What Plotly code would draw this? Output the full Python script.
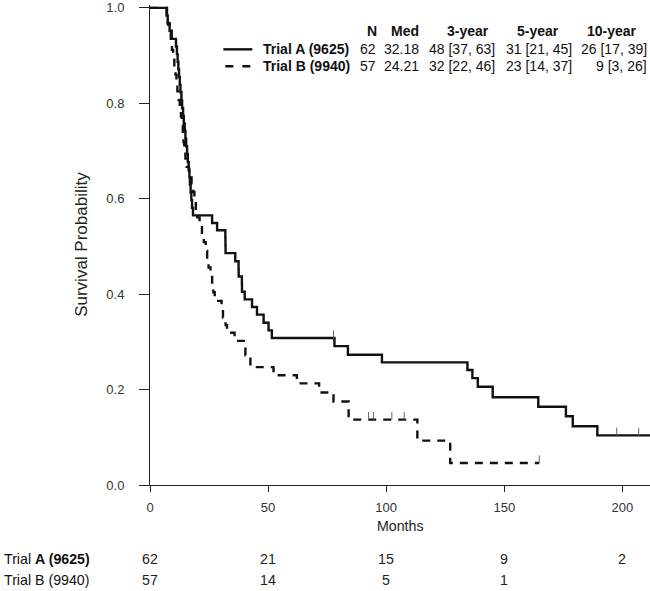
import numpy as np
import plotly.graph_objects as go

# ---------------- data ----------------
# Trial A (9625): step-down times (months) and survival after each step
a_times = [0, 7.0, 7.5, 8.3, 9.2,
           11.0, 11.4, 11.7, 12.0, 12.3, 12.6, 12.9, 13.3, 13.6, 14.0, 14.3, 14.7,
           15.0, 15.3, 15.7, 16.0, 16.4, 16.7, 16.9, 17.2, 17.5, 17.8, 18.2,
           26.3, 28.4, 31.9, 31.95, 32.0, 36.1, 37.5, 37.55, 38.9, 38.95, 40.1,
           43.2, 45.3, 48.1, 50.2, 51.6,
           78.1, 83.8, 98.2, 134.4, 136.5, 138.8, 145.1, 164.4, 176.1, 179.0, 189.4]
a_surv = [1.0, 0.984, 0.968, 0.952, 0.935,
          0.919, 0.903, 0.887, 0.871, 0.855, 0.839, 0.823, 0.806, 0.790, 0.774, 0.758, 0.742,
          0.726, 0.710, 0.694, 0.677, 0.661, 0.645, 0.629, 0.613, 0.597, 0.581, 0.565,
          0.549, 0.534, 0.518, 0.502, 0.486, 0.469, 0.453, 0.437, 0.421, 0.405, 0.389,
          0.373, 0.357, 0.340, 0.324, 0.308,
          0.291, 0.273, 0.257, 0.241, 0.224, 0.206, 0.184, 0.164, 0.144, 0.123, 0.104]
a_last = 212.0
a_censor = [77.7, 197.6, 206.9]

# Trial B (9940)
b_times = [0, 7.2, 7.6, 8.3, 8.8, 9.3, 9.8, 10.3, 10.8, 11.2, 11.6, 12.1, 12.6, 13.1,
           13.5, 13.9, 14.2, 14.5, 15.0, 15.5, 16.5, 17.6, 18.3, 18.8, 19.4, 20.0, 21.0,
           22.0, 22.8, 23.6, 24.2, 24.8, 25.6, 26.3, 26.8, 27.4, 30.3, 30.9, 32.0, 32.6,
           35.8, 40.4, 42.5, 52.3, 62.2, 71.6, 77.7, 84.1, 113.2, 127.1]
b_surv = [1.0, 0.982, 0.965, 0.947, 0.930, 0.912, 0.895, 0.877, 0.860, 0.842, 0.825, 0.807,
          0.789, 0.772, 0.754, 0.737, 0.719, 0.702, 0.684, 0.667, 0.649, 0.632, 0.614, 0.596,
          0.579, 0.561, 0.544, 0.526, 0.509, 0.491, 0.474, 0.456, 0.439, 0.421, 0.404, 0.386,
          0.368, 0.351, 0.335, 0.319, 0.302, 0.272, 0.247, 0.230, 0.213, 0.194, 0.175, 0.137,
          0.093, 0.046]
b_last = 164.8
b_censor = [92.5, 94.6, 102.4, 107.6, 164.8]

# summary table
col_headers = ["N", "Med", "3-year", "5-year", "10-year"]
names = ["Trial A (9625)", "Trial B (9940)"]
n_vals = ["62", "57"]
med_vals = ["32.18", "24.21"]
y3_vals = ["48 [37, 63]", "32 [22, 46]"]
y5_vals = ["31 [21, 45]", "23 [14, 37]"]
y10_vals = ["26 [17, 39]", "9 [3, 26]"]

# number at risk
risk_times = [0, 50, 100, 150, 200]
risk_a = [62, 21, 15, 9, 2]
risk_b = [57, 14, 5, 1]

x_ticks = [0, 50, 100, 150, 200]
y_ticks = [0.0, 0.2, 0.4, 0.6, 0.8, 1.0]

# ---------------- layout geometry (pixels) ----------------
W, H = 650, 591
L, R = 149.6, 650.0
Y1, Y0 = 8.0, 485.5          # pixel rows of S=1 and S=0
YTOP = 1.006
ppu = Y0 - Y1                 # px per unit survival
top_px = Y0 - ppu * YTOP
plot_h = Y0 - top_px
plot_w = R - L
XMAX = 211.7

def pxx(px):
    return (px - L) / plot_w

def pxy(py):
    return (Y0 - py) / plot_h

FONT = "Liberation Sans, Arial, sans-serif"
TFS = 14.0
fig = go.Figure()

def step_at(times, surv, t):
    i = np.searchsorted(np.array(times), t, side="right") - 1
    return surv[i]

for times, surv, last, cens, dash in [
    (a_times, a_surv, a_last, a_censor, "solid"),
    (b_times, b_surv, b_last, b_censor, "8px,7px"),
]:
    fig.add_trace(go.Scatter(
        x=list(times) + [last], y=list(surv) + [surv[-1]],
        mode="lines", line=dict(shape="hv", color="#111111", width=2.4, dash=dash),
        showlegend=False, hoverinfo="skip"))
    cy = [step_at(times, surv, t) for t in cens]
    fig.add_trace(go.Scatter(
        x=cens, y=cy, mode="markers",
        marker=dict(size=1, color="rgba(0,0,0,0)"),
        error_y=dict(type="data", symmetric=False, array=[0.016] * len(cens),
                     arrayminus=[0] * len(cens), width=0, thickness=1, color="#666666"),
        showlegend=False, hoverinfo="skip"))

ann = []
# header row
hdr_centers = [372, 405, 468, 538, 612]
for txt, cx in zip(col_headers, hdr_centers):
    ann.append(dict(x=pxx(cx), y=pxy(31.5), text="<b>%s</b>" % txt, xanchor="center",
                    yanchor="middle", showarrow=False))
rows_y = [49.5, 66.5]
right_edges = [378, 421, 497, 574, 649]
for i in range(2):
    ann.append(dict(x=pxx(261), y=pxy(rows_y[i]), text="<b>%s</b>" % names[i],
                    xanchor="left", yanchor="middle", showarrow=False))
    for vals, rx in zip([n_vals, med_vals, y3_vals, y5_vals, y10_vals], right_edges):
        ann.append(dict(x=pxx(rx), y=pxy(rows_y[i]), text=vals[i], xanchor="right",
                        yanchor="middle", showarrow=False))
for a in ann:
    a.update(xref="paper", yref="paper", font=dict(family=FONT, size=TFS, color="#111"))

# legend line samples
shapes = [
    dict(type="line", xref="paper", yref="paper", x0=pxx(223), x1=pxx(252),
         y0=pxy(49.5), y1=pxy(49.5), line=dict(color="#111", width=2.4)),
    dict(type="line", xref="paper", yref="paper", x0=pxx(225), x1=pxx(252),
         y0=pxy(66.5), y1=pxy(66.5), line=dict(color="#111", width=2.4, dash="8px,9px")),
]

# risk table
risk_ann = []
risk_rows = [(names[0].replace("A (9625)", "<b>A (9625)</b>"), risk_a, 560),
             (names[1], risk_b, 581)]
for label, vals, py in risk_rows:
    risk_ann.append(dict(x=pxx(1), y=pxy(py), xref="paper", yref="paper", text=label,
                         xanchor="left", yanchor="middle", showarrow=False,
                         font=dict(family=FONT, size=14.2, color="#111")))
    for t, v in zip(risk_times, vals):
        risk_ann.append(dict(x=t, xref="x", y=pxy(py), yref="paper", text=str(v),
                             xanchor="center", yanchor="middle", showarrow=False,
                             font=dict(family=FONT, size=14.2, color="#222")))

# axis titles as annotations
titles = [
    dict(x=0.5, y=pxy(527), xref="paper", yref="paper", text="Months", showarrow=False,
         xanchor="center", yanchor="middle", font=dict(family=FONT, size=14.2, color="#222")),
    dict(x=pxx(81.7), y=pxy(245), xref="paper", yref="paper", text="Survival Probability",
         textangle=-90, showarrow=False, xanchor="center", yanchor="middle",
         font=dict(family=FONT, size=17, color="#222")),
]

fig.update_layout(
    width=W, height=H,
    margin=dict(l=L, r=W - R, t=top_px, b=H - Y0, pad=0, autoexpand=False),
    paper_bgcolor="white", plot_bgcolor="white",
    font=dict(family=FONT, color="#333"),
    annotations=ann + risk_ann + titles,
    shapes=shapes,
    xaxis=dict(range=[0, XMAX], tickvals=x_ticks, ticks="outside", ticklen=6,
               tickwidth=1, tickcolor="#222", showline=True, linecolor="#222",
               linewidth=1, showgrid=False, zeroline=False, automargin=False,
               tickfont=dict(family=FONT, size=13, color="#333"),
               ticklabelstandoff=4),
    yaxis=dict(range=[0, YTOP], tickvals=y_ticks, tickformat=".1f", ticks="outside",
               ticklen=10, tickwidth=1, tickcolor="#222", showline=True,
               linecolor="#222", linewidth=1, showgrid=False, zeroline=False,
               automargin=False, tickfont=dict(family=FONT, size=13, color="#333"),
               ticklabelstandoff=12),
)

fig.write_html("out.html", config={"displayModeBar": False},
               post_script="document.body.style.margin='0px';document.body.style.padding='0px';")
